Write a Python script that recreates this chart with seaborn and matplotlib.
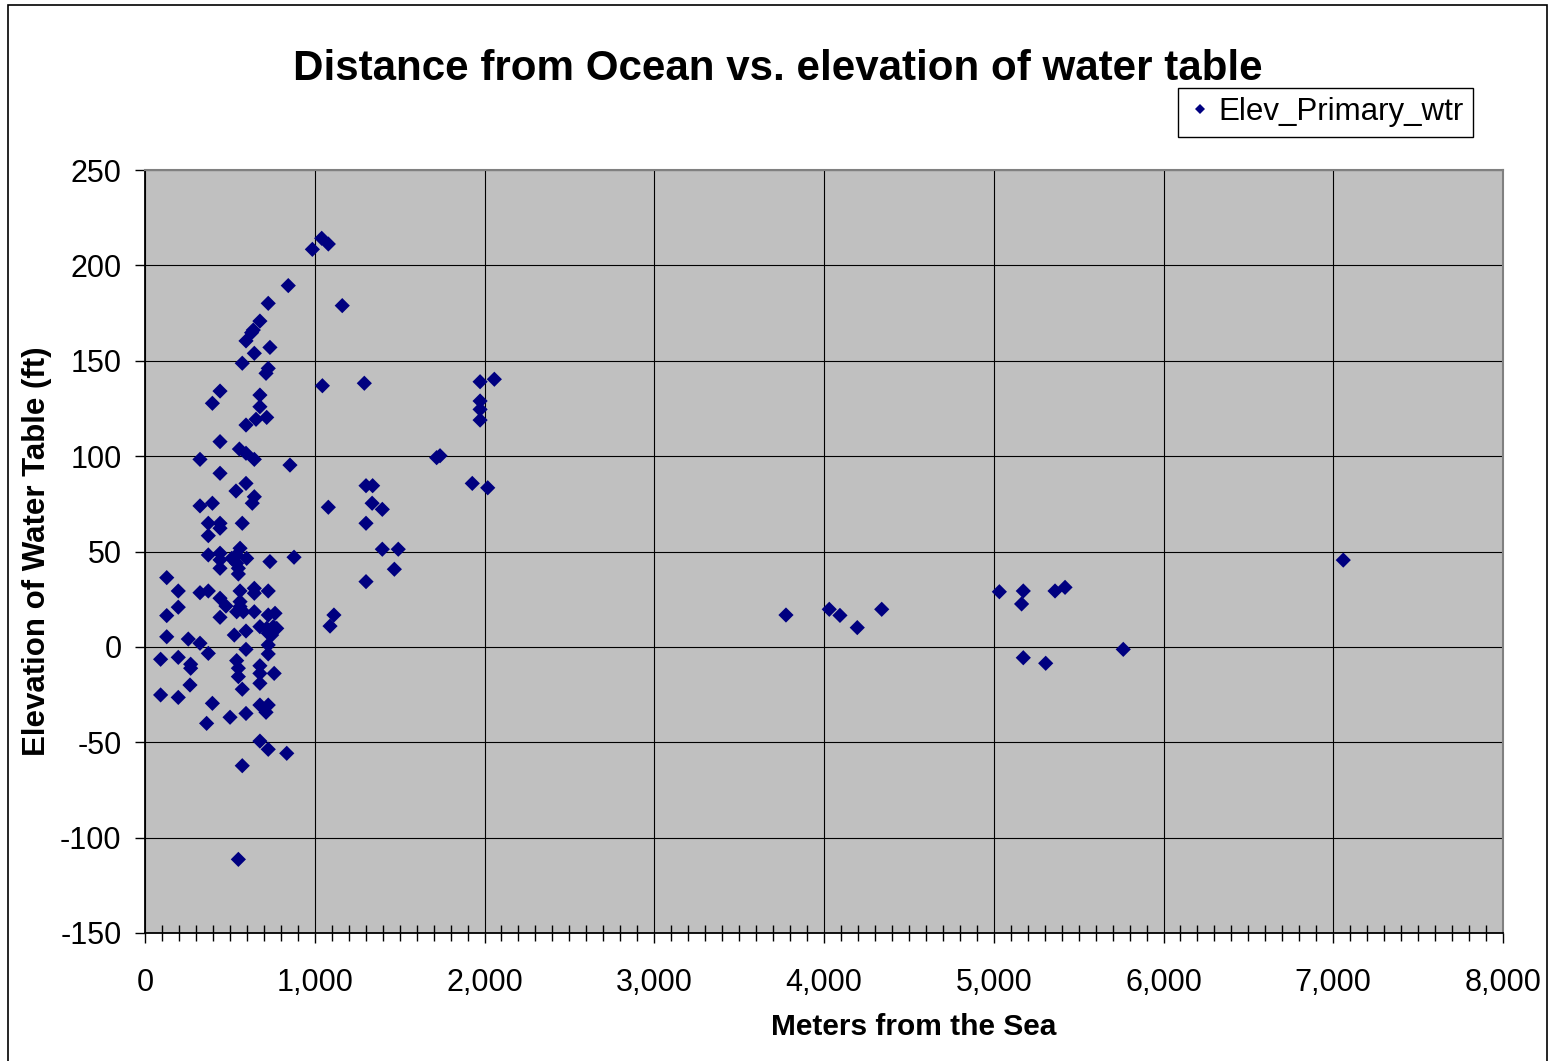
import numpy as np
import pandas as pd
import matplotlib
matplotlib.use("Agg")
import matplotlib.pyplot as plt
import matplotlib.ticker as mticker
from matplotlib.patches import Rectangle
import seaborn as sns

# distance from the sea (m) and water table elevation (ft)
dist_m = [
    844, 726, 677, 638, 628, 595, 736, 644, 573, 726, 713, 442, 397, 677, 677,
    654, 717, 595, 442, 556, 595, 644, 324, 854, 442, 595, 536, 644, 632, 324, 397,
    373, 442, 442, 573, 373, 373, 442, 442, 442, 560, 540, 599, 540, 550, 550,
    511, 736, 878, 128, 196, 324, 373, 560, 644, 644, 726, 442, 477, 560, 560,
    540, 579, 644, 196, 128, 442, 726, 766, 717, 756, 776, 726, 746, 677, 128,
    255, 324, 526, 595, 726, 373, 595, 726, 92, 196, 269, 269, 540, 550, 550,
    677, 677, 761, 265, 573, 677,
    92, 196, 397, 363, 501, 595, 677, 726, 713, 677, 726, 835, 573, 550,
    986, 1041, 1080, 1162, 1045, 1292, 1974, 2058, 1974, 1974, 1974, 1738, 1718,
    1928, 2019, 1302, 1341, 1080, 1338, 1398,
    1302, 1398, 1492, 1469, 1302, 1113, 1090,
    3776, 4031, 4094, 4196, 4340, 5033, 5174, 5164, 5361, 5420, 5174, 5306, 5763, 7059,
]
elev_ft = [
    189.4, 180.1, 170.8, 166.1, 164.7, 160.4, 157.0, 153.9, 148.7, 146.0, 143.4,
    134.1, 127.7, 132.0, 125.9, 119.3, 120.3, 116.3, 107.6, 103.7, 101.5, 98.3,
    98.3, 95.3, 91.0, 85.7, 81.7, 78.7, 75.3, 73.9, 75.3,
    64.8, 64.8, 62.2, 64.8, 58.3, 48.2, 49.1, 45.6, 41.2, 51.7, 48.2, 46.4, 43.8,
    41.2, 38.2, 46.4, 44.7, 47.0, 36.3, 29.3, 28.4, 29.3, 29.3, 30.7, 28.1, 29.3,
    25.5, 21.4, 23.7, 21.1, 18.4, 18.4, 18.4, 20.8, 16.4, 15.5, 16.7, 17.6, 9.7,
    10.6, 9.7, 7.1, 6.2, 10.6, 5.3, 4.1, 1.9, 6.2, 8.3, 1.0, -3.4, -1.3, -3.7,
    -6.5, -5.5, -9.1, -11.2, -7.2, -11.2, -15.6, -9.9, -13.9, -13.9, -20.0,
    -22.2, -19.1,
    -25.2, -26.5, -29.6, -40.1, -36.9, -34.9, -30.5, -30.5, -34.3, -49.4, -53.7,
    -55.8, -62.3, -111.4,
    208.4, 214.2, 211.2, 178.9, 136.9, 138.2, 139.0, 140.3, 128.9, 124.5, 118.9,
    100.2, 99.2, 85.7, 83.4, 84.5, 84.5, 73.2, 75.3, 72.1,
    64.8, 51.2, 51.2, 40.7, 34.2, 16.7, 10.9,
    16.7, 19.7, 16.5, 10.1, 19.7, 28.9, 29.3, 22.5, 29.3, 31.2, -5.7, -8.6, -1.3, 45.5,
]
series_name = "Elev_Primary_wtr"

df = pd.DataFrame({"dist": dist_m, "elev": elev_ft, "series": series_name})

sns.set_style("white")
plt.rcParams['font.family'] = ['Liberation Sans', 'DejaVu Sans']
plt.rcParams['axes.unicode_minus'] = False
plt.rcParams['text.color'] = 'black'
plt.rcParams['xtick.color'] = 'black'
plt.rcParams['ytick.color'] = 'black'

fig = plt.figure(figsize=(15.53, 10.61), dpi=100)
ax = fig.add_axes([145 / 1553, 1 - 933 / 1061, 1358 / 1553, 763 / 1061])
ax.set_facecolor('#C0C0C0')

sns.scatterplot(data=df, x="dist", y="elev", hue="series", palette=['#000080'],
                marker='D', s=60, edgecolor='none', linewidth=0, ax=ax, zorder=3)

ax.set_xlim(0, 8000)
ax.set_ylim(-150, 250)
ax.xaxis.set_major_locator(mticker.MultipleLocator(1000))
ax.xaxis.set_minor_locator(mticker.MultipleLocator(100))
ax.yaxis.set_major_locator(mticker.MultipleLocator(50))
ax.xaxis.set_major_formatter(mticker.StrMethodFormatter('{x:,.0f}'))

ax.grid(True, which='major', color='black', linewidth=0.8, zorder=1)
ax.set_axisbelow(True)

ax.tick_params(axis='both', which='both', bottom=True, left=True, top=False, right=False)
ax.tick_params(axis='y', which='major', labelsize=22, direction='out',
               length=7, width=1, color='black', pad=10)
ax.tick_params(axis='x', which='major', labelsize=22, direction='out',
               length=7, width=1, color='black', pad=18)
ax.tick_params(axis='x', which='minor', direction='inout', length=12, width=1, color='black')

for side in ['left', 'bottom']:
    ax.spines[side].set_color('black')
    ax.spines[side].set_linewidth(1.3)
for side in ['top', 'right']:
    ax.spines[side].set_color('#808080')
    ax.spines[side].set_linewidth(1.5)

ax.set_xlabel('')
ax.set_ylabel('')
fig.text(914 / 1553, 1 - 1027 / 1061, 'Meters from the Sea', ha='center', va='center',
         fontsize=21.5, fontweight='bold')
fig.text(37 / 1553, 1 - 551 / 1061, 'Elevation of Water Table (ft)', ha='center',
         va='center', rotation=90, fontsize=22.5, fontweight='bold')
fig.text(778 / 1553, 1 - 69 / 1061, 'Distance from Ocean vs. elevation of water table',
         ha='center', va='center', fontsize=30.3, fontweight='bold')

handles, labels = ax.get_legend_handles_labels()
ax.legend(handles, labels, loc='upper right', bbox_to_anchor=(1473 / 1553, 1 - 88 / 1061),
          bbox_transform=fig.transFigure, borderaxespad=0, fancybox=False,
          edgecolor='black', framealpha=1, fontsize=22.5, handletextpad=0.2,
          handlelength=0.8, markerscale=0.7, borderpad=0.3)

# outer chart frame
fig.patches.append(Rectangle((8 / 1553, -0.01), 1539 / 1553, 1.01 - 5 / 1061,
                             transform=fig.transFigure, fill=False,
                             edgecolor='black', linewidth=1.2))

fig.savefig('out.png', dpi=100)
